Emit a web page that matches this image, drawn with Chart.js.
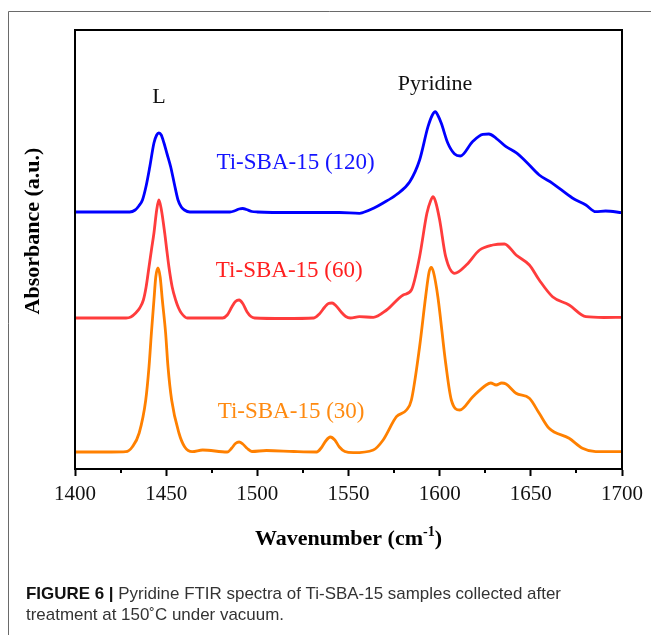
<!DOCTYPE html>
<html><head><meta charset="utf-8">
<script src="https://cdn.jsdelivr.net/npm/chart.js@4.4.1/dist/chart.umd.min.js"></script>
<style>html,body{margin:0;padding:0;background:#fff;}canvas{display:block;}</style>
</head><body>
<canvas id="c" width="651" height="635"></canvas>
<script>
// ---- data (absorbance in arbitrary units, offset stacked as in the figure) ----
const wnBlue  = [1400,1420,1430,1433,1435,1437,1439,1441,1443.3,1444.8,1446,1447.3,1448.8,1450.5,1452.5,1454.5,1456.5,1458.3,1460,1463,1485,1488,1490,1492,1494,1497,1500,1520,1545,1556,1558,1564,1569,1576,1583.6,1589,1593.6,1596,1597.6,1599.2,1600.9,1604.5,1608.2,1611.3,1618,1623.7,1627,1631,1636.4,1641.9,1647.4,1654.6,1661.9,1672.8,1680.2,1685.6,1691,1700];
const absBlue = [257,257,257,259,263,269,283,302,326,334,336,334,326,315,302,285,269,262,259,257,257,258.5,260,260.5,259.5,257.5,257,256.5,256.5,255.7,256.5,261,266,274,287.3,309,342.3,354,357.3,353,345.7,325.7,315,313,327.3,334.7,335,330.7,322.3,316.3,307.3,294,285.7,271,264,257.3,258,256.3];

const wnRed  = [1400,1428,1430.6,1433.3,1435.5,1437.5,1439,1440.6,1442,1443.3,1444.8,1446,1447.3,1449.2,1450.4,1451.5,1453.3,1455.2,1456.8,1458.3,1461.6,1481,1483.5,1486,1488,1490,1492,1494.4,1496.5,1498.5,1515,1531,1534,1537,1539,1541,1543,1546,1548.5,1551,1556,1563.6,1570.9,1580,1584.5,1589,1593,1595,1596.4,1597.8,1600,1603.3,1608.2,1614.6,1621.9,1629.1,1635.5,1641.9,1649.2,1654.6,1661.9,1671,1680.2,1690,1700];
const absRed = [151,151,152,156,161,169,182,202.3,220,236,259,269,260,236,218,202.3,182,169,161,156,151,151,154,162,167.5,169,165.5,157,152.5,151,150.5,151,155,162,165.5,166,163.5,157,152.5,151,152.3,151.7,159,174,179,212.3,255.7,268,272.3,267,249,212.3,195.7,204,219,224,225,214,204,189,172.3,164,152.3,151.5,151.7];

const wnOrange  = [1400,1420,1427.9,1431.5,1435.2,1438.8,1440.6,1441.9,1443.3,1444.3,1445.5,1446.7,1447.9,1449.7,1451,1453,1457,1460.1,1464.3,1470,1483.5,1486,1488,1490,1492,1494.5,1497,1505,1520,1532.5,1535,1537.5,1540,1542.5,1545,1548,1552.6,1563.6,1569,1576.3,1581.8,1584.5,1589,1592.3,1594.2,1595.4,1596.6,1599,1603.3,1606.4,1611,1618.2,1625.5,1628,1631,1634,1636.4,1641.9,1649.2,1654.6,1660,1671,1678.3,1685.6,1700];
const absOrange = [17,17,17.3,22.3,36,69,102.3,136,169,192,201,192,169,136,102.3,69,36,22.3,17.3,19,17,21,25.5,27,25,20.5,17.5,18.5,17.5,17,21,28,32,29,22,17.5,16.3,19,29,52.3,59,69,122.3,172.3,197,201.7,197,172.3,105.7,69,59,72.3,84,86,84,86,85,75.7,70.7,55.7,40.7,30.7,20.7,17.3,17.3];

const seriesNames  = ['Ti-SBA-15 (120)','Ti-SBA-15 (60)','Ti-SBA-15 (30)'];
const seriesColors = ['#0000ff','#ff3c3c','#ff8000'];
const textColors   = ['#1414ff','#ff2020','#ff8a10'];
const xTickValues  = [1400,1450,1500,1550,1600,1650,1700];
const xMinorTicks  = [1425,1475,1525,1575,1625,1675];
// label anchor points [wavenumber, a.u.]
const labelPos = [[1521,306],[1517.5,198],[1518.5,57]];
const peakLabels = [['L',1446,372],['Pyridine',1597.5,385]];

function pts(xs, ys){ return xs.map((v,i)=>({x:v,y:ys[i]})); }

const deco = {
  id:'deco',
  afterDatasetsDraw(chart){
    const {ctx, chartArea:ca, scales:{x,y}} = chart;
    ctx.save();
    ctx.strokeStyle='#000'; ctx.lineWidth=2;
    ctx.strokeRect(ca.left, ca.top, ca.right-ca.left, ca.bottom-ca.top);
    ctx.beginPath();
    xMinorTicks.forEach(v=>{ const px=Math.round(x.getPixelForValue(v)); ctx.moveTo(px, ca.bottom); ctx.lineTo(px, ca.bottom+4); });
    ctx.stroke();
    ctx.textAlign='center'; ctx.textBaseline='middle';
    ctx.font='23px "Liberation Serif"';
    labelPos.forEach((p,i)=>{ ctx.fillStyle=textColors[i]; ctx.fillText(seriesNames[i], x.getPixelForValue(p[0]), y.getPixelForValue(p[1])); });
    ctx.fillStyle='#111'; ctx.font='22px "Liberation Serif"';
    peakLabels.forEach(p=>{ ctx.fillText(p[0], x.getPixelForValue(p[1]), y.getPixelForValue(p[2])); });
    // y axis title
    ctx.save();
    ctx.translate(33, 231); ctx.rotate(-Math.PI/2);
    ctx.fillStyle='#000'; ctx.font='bold 22px "Liberation Serif"';
    ctx.fillText('Absorbance (a.u.)', 0, 0);
    ctx.restore();
    // x axis title with superscript
    const cx=(ca.left+ca.right)/2, base=545;
    ctx.textAlign='left'; ctx.textBaseline='alphabetic';
    const t1='Wavenumber (cm', t2=')';
    ctx.font='bold 14px "Liberation Serif"'; const wsup=ctx.measureText('-1').width;
    ctx.font='bold 22px "Liberation Serif"';
    const w1=ctx.measureText(t1).width, w2=ctx.measureText(t2).width;
    let sx=cx-(w1+wsup+w2)/2;
    ctx.fillStyle='#000';
    ctx.fillText(t1,sx,base); sx+=w1;
    ctx.font='bold 14px "Liberation Serif"'; ctx.fillText('-1',sx,base-9); sx+=wsup;
    ctx.font='bold 22px "Liberation Serif"'; ctx.fillText(t2,sx,base);
    ctx.restore();
  },
  afterDraw(chart){
    const {ctx} = chart;
    ctx.save();
    ctx.strokeStyle='#6a6a6a'; ctx.lineWidth=1;
    ctx.beginPath(); ctx.moveTo(8.5,635); ctx.lineTo(8.5,11.5); ctx.lineTo(651,11.5); ctx.stroke();
    const b='FIGURE 6 |', r1=' Pyridine FTIR spectra of Ti-SBA-15 samples collected after', r2='treatment at 150\u02DAC under vacuum.';
    ctx.font='bold 17px "Liberation Sans"'; const wb=ctx.measureText(b).width;
    ctx.font='17px "Liberation Sans"'; const wr=ctx.measureText(r1).width;
    const s=535/(wb+wr);
    ctx.textBaseline='alphabetic'; ctx.textAlign='left';
    ctx.translate(26,0); ctx.scale(s,1);
    ctx.fillStyle='#111'; ctx.font='bold 17px "Liberation Sans"'; ctx.fillText(b,0,599);
    ctx.fillStyle='#333'; ctx.font='17px "Liberation Sans"'; ctx.fillText(r1,wb,599);
    ctx.fillText(r2,0,620);
    ctx.restore();
  }
};

new Chart(document.getElementById('c'), {
  type:'line',
  data:{ datasets:[
    {label:seriesNames[0], data:pts(wnBlue,absBlue), borderColor:seriesColors[0]},
    {label:seriesNames[1], data:pts(wnRed,absRed), borderColor:seriesColors[1]},
    {label:seriesNames[2], data:pts(wnOrange,absOrange), borderColor:seriesColors[2]}
  ]},
  options:{
    responsive:false, animation:false, devicePixelRatio:1,
    layout:{padding:{left:0,right:29,top:30,bottom:81}},
    elements:{point:{radius:0}, line:{borderWidth:2.8, cubicInterpolationMode:'monotone', fill:false}},
    plugins:{legend:{display:false}, tooltip:{enabled:false}},
    scales:{
      x:{type:'linear', min:1400, max:1700,
         afterFit(s){ s.height=85; },
         afterBuildTicks(s){ s.ticks = xTickValues.map(v=>({value:v})); },
         ticks:{callback:v=>String(v), font:{family:'Liberation Serif', size:21}, color:'#111', padding:6, maxRotation:0, autoSkip:false},
         grid:{display:true, drawOnChartArea:false, drawTicks:true, tickLength:7, tickWidth:2, tickColor:'#000'},
         border:{display:true, width:2, color:'#000'},
         title:{display:false}},
      y:{type:'linear', min:0, max:439,
         afterFit(s){ s.width=75; },
         ticks:{display:false}, grid:{display:false}, border:{display:false},
         title:{display:false}}
    }
  },
  plugins:[deco]
});
</script>
</body></html>
